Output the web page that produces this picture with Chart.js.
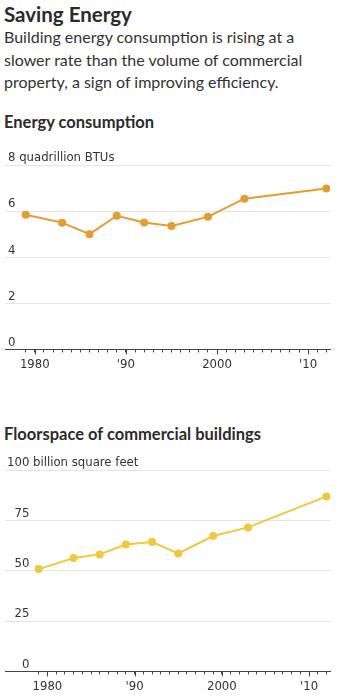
<!DOCTYPE html>
<html>
<head>
<meta charset="utf-8">
<script src="https://cdn.jsdelivr.net/npm/chart.js@4.4.1/dist/chart.umd.min.js"></script>
<style>
  body { margin: 0; background: #fff; color: #333; font-family: Lato, "Noto Sans", sans-serif; }
  .page { position: relative; width: 345px; height: 697px; overflow: hidden; }
  .title { position: absolute; left: 4px; top: 1px; font-size: 20.5px; line-height: 26px; font-weight: 700; color: #2b2b2b; }
  .dek { position: absolute; left: 4px; top: 26px; width: 340px; font-size: 16px; line-height: 22.5px; color: #333; }
  .hed { position: absolute; left: 4px; font-size: 16.5px; line-height: 20px; font-weight: 700; color: #2b2b2b; }
  .chart { position: absolute; left: 0; width: 345px; }
</style>
</head>
<body>
<div class="page">
  <div class="title">Saving Energy</div>
  <div class="dek">Building energy consumption is rising at a slower rate than the volume of commercial property, a sign of improving efficiency.</div>

  <div class="hed" style="top:112px">Energy consumption</div>
  <div class="chart" style="top:145px;height:231px"><canvas id="energyChart"></canvas></div>

  <div class="hed" style="top:424px">Floorspace of commercial buildings</div>
  <div class="chart" style="top:450px;height:248px"><canvas id="floorChart"></canvas></div>
</div>

<script>
// survey years and readings
const years = [1979, 1983, 1986, 1989, 1992, 1995, 1999, 2003, 2012];
const energy = [5.84, 5.5, 5.0, 5.8, 5.51, 5.35, 5.75, 6.54, 6.98];       // quadrillion BTUs
const floorspace = [50.8, 56.3, 58.1, 63.0, 64.2, 58.6, 67.2, 71.5, 86.9]; // billion sq ft

const energyTicks = [0, 2, 4, 6, 8];
const floorTicks = [0, 25, 50, 75, 100];
const decadeTicks = [1980, 1990, 2000, 2010];
const decadeLabels = ["1980", "'90", "2000", "'10"];
const firstYear = 1979;
const lastYear = 2012;

const tickFont = { family: "'Liberation Sans Narrow', 'DejaVu Sans Condensed', sans-serif", size: 13 };

// long ticks at the decades + unit text after the top y label
const axisExtras = {
  id: "axisExtras",
  afterDraw(chart, args, opts) {
    const { ctx, chartArea, scales } = chart;
    const x = scales.x, y = scales.y;
    ctx.save();
    ctx.strokeStyle = "#444";
    ctx.lineWidth = 1;
    decadeTicks.forEach((yr) => {
      const px = Math.round(x.getPixelForValue(yr)) + 0.5;
      ctx.beginPath();
      ctx.moveTo(px, chartArea.bottom);
      ctx.lineTo(px, chartArea.bottom + 5);
      ctx.stroke();
    });
    const top = opts.ticks[opts.ticks.length - 1];
    ctx.font = tickFont.size + "px " + tickFont.family;
    ctx.fillStyle = "#333";
    ctx.textBaseline = "middle";
    ctx.textAlign = "left";
    const labelW = ctx.measureText(String(top)).width;
    ctx.fillText(" " + opts.unit, chartArea.left + opts.labelPad + labelW, y.getPixelForValue(top) - 7);
    ctx.restore();
  },
};

function makeChart(id, values, color, yTicks, unit, xMin, labelPad) {
  return new Chart(document.getElementById(id), {
    type: "line",
    data: {
      datasets: [{
        data: years.map((yr, i) => ({ x: yr, y: values[i] })),
        borderColor: color,
        backgroundColor: color,
        borderWidth: 2,
        pointRadius: 3,
        pointHoverRadius: 3,
        tension: 0,
      }],
    },
    options: {
      responsive: true,
      maintainAspectRatio: false,
      animation: false,
      layout: { padding: { left: 3, right: 15, top: 20, bottom: 0 } },
      plugins: {
        legend: { display: false },
        tooltip: { enabled: false },
        axisExtras: { ticks: yTicks, unit: unit, labelPad: labelPad },
      },
      scales: {
        x: {
          type: "linear",
          min: xMin,
          max: 2012.4,
          afterBuildTicks: (scale) => {
            const t = [];
            for (let yr = firstYear; yr <= lastYear; yr++) t.push({ value: yr });
            scale.ticks = t;
          },
          grid: { drawOnChartArea: false, tickLength: 3, tickColor: "#444" },
          border: { display: true, color: "#444", width: 1 },
          ticks: {
            autoSkip: false,
            maxRotation: 0,
            padding: 4,
            color: "#333",
            font: tickFont,
            callback: (v) => {
              const i = decadeTicks.indexOf(v);
              return i >= 0 ? decadeLabels[i] : "";
            },
          },
        },
        y: {
          min: yTicks[0],
          max: yTicks[yTicks.length - 1],
          afterBuildTicks: (scale) => { scale.ticks = yTicks.map((v) => ({ value: v })); },
          afterFit: (scale) => { scale.width = 0; },
          grid: { color: "#e4e4e4", drawTicks: false },
          border: { display: false },
          ticks: {
            mirror: true,
            crossAlign: "far",
            padding: labelPad,
            labelOffset: -7,
            color: "#333",
            font: tickFont,
          },
        },
      },
    },
    plugins: [axisExtras],
  });
}

makeChart("energyChart", energy, "#e69c2f", energyTicks, "quadrillion BTUs", 1976.73, 3);
makeChart("floorChart", floorspace, "#f0c83c", floorTicks, "billion square feet", 1975.14, 2);
</script>
</body>
</html>
